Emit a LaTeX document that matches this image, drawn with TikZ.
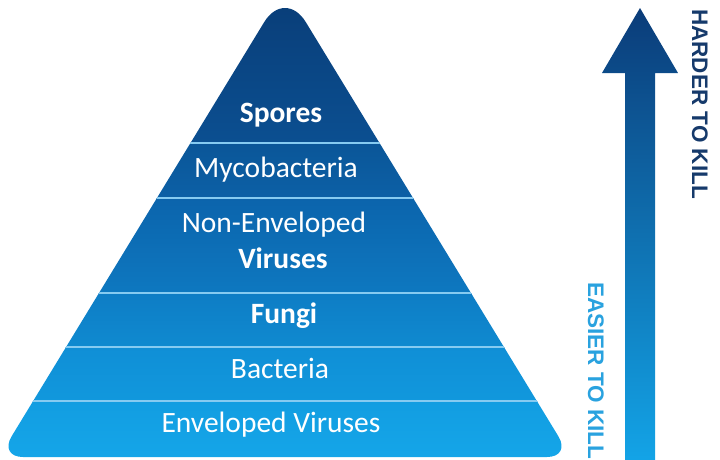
\documentclass[tikz,border=0pt]{standalone}
\usepackage{fontspec}
\setmainfont{Carlito}
\newfontfamily\arialb{Liberation Sans}[BoldFont={Liberation Sans Bold}]
\definecolor{b1t}{HTML}{093C76}
\definecolor{b1b}{HTML}{0B4F91}
\definecolor{b2t}{HTML}{0B5698}
\definecolor{b2b}{HTML}{0C60A6}
\definecolor{b3t}{HTML}{0C64AC}
\definecolor{b3b}{HTML}{0D78C0}
\definecolor{b4t}{HTML}{0E7DC5}
\definecolor{b4b}{HTML}{0F8AD0}
\definecolor{b5t}{HTML}{108FD6}
\definecolor{b5b}{HTML}{1198DD}
\definecolor{b6t}{HTML}{129DE1}
\definecolor{b6b}{HTML}{15A6E9}
\definecolor{sepc}{HTML}{86CBF1}
\definecolor{arrtop}{HTML}{0B3C79}
\definecolor{arrbot}{HTML}{13A4E7}
\definecolor{hardc}{HTML}{163A6B}
\definecolor{easyc}{HTML}{29A2DF}
\tikzset{
  lbl/.style={text=white, font=\fontsize{29.5}{31}\selectfont, anchor=base, inner sep=0pt},
  lblb/.style={lbl, font=\fontsize{29.5}{31}\selectfont\bfseries},
  sepline/.style={draw=sepc, line width=2pt},
  sidetxt/.style={font=\arialb\bfseries\fontsize{22.5}{24}\selectfont, rotate=-90, anchor=base west, inner sep=0pt}
}
\begin{document}
\begin{tikzpicture}[x=1pt,y=-1pt]
\useasboundingbox (0,0) rectangle (720,459);
% pyramid
\begin{scope}
\clip (285,457) [rounded corners=24pt] -- (-1,457) [rounded corners=40pt] -- (285,-12) [rounded corners=24pt] -- (571,457) -- cycle;
\shade[top color=b1t, bottom color=b1b] (-5,-15) rectangle (580,143);
\shade[top color=b2t, bottom color=b2b] (-5,143) rectangle (580,198);
\shade[top color=b3t, bottom color=b3b] (-5,198) rectangle (580,293);
\shade[top color=b4t, bottom color=b4b] (-5,293) rectangle (580,347);
\shade[top color=b5t, bottom color=b5b] (-5,347) rectangle (580,401);
\shade[top color=b6t, bottom color=b6b] (-5,401) rectangle (580,460);
\coordinate (s1l) at (-5,143); \coordinate (s1r) at (580,143);
\coordinate (s2l) at (-5,198); \coordinate (s2r) at (580,198);
\coordinate (s3l) at (-5,293); \coordinate (s3r) at (580,293);
\coordinate (s4l) at (-5,347); \coordinate (s4r) at (580,347);
\coordinate (s5l) at (-5,401); \coordinate (s5r) at (580,401);
\draw[sepline] (s1l) -- (s1r);
\draw[sepline] (s2l) -- (s2r);
\draw[sepline] (s3l) -- (s3r);
\draw[sepline] (s4l) -- (s4r);
\draw[sepline] (s5l) -- (s5r);
\end{scope}
% labels
\node[lblb] (spores) at (281,122) {Spores};
\node[lbl] (myco) at (276,177) {Mycobacteria};
\node[lbl] (nonenv) at (274,232) {Non-Enveloped};
\node[lblb] (vir) at (283,268) {Viruses};
\node[lblb] (fungi) at (284,323) {Fungi};
\node[lbl] (bact) at (280,378) {Bacteria};
\node[lbl] (envv) at (271,432) {Enveloped Viruses};
% arrow
\shade[top color=arrtop, bottom color=arrbot] (640,8) -- (678,73) -- (655,73) -- (655,462) -- (625,462) -- (625,73) -- (602,73) -- cycle;
\node[sidetxt, text=hardc] (hard) at (692,9) {HARDER TO KILL};
\node[sidetxt, text=easyc] (easy) at (588,282) {EASIER TO KILL};
\end{tikzpicture}
\end{document}
